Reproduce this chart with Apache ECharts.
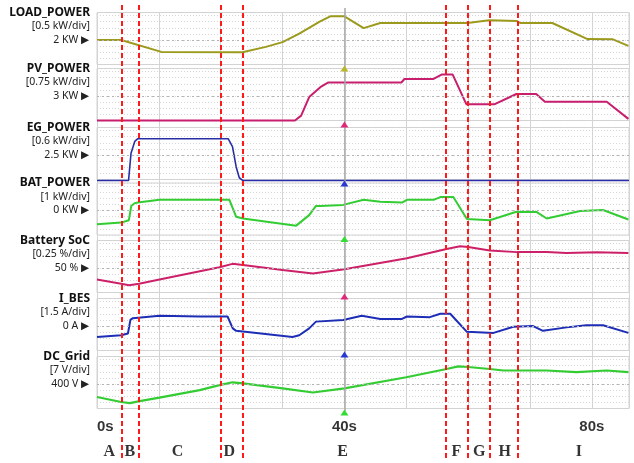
<!DOCTYPE html>
<html><head><meta charset="utf-8">
<script src="https://cdn.jsdelivr.net/npm/echarts@6/dist/echarts.min.js"></script>
<style>html,body{margin:0;padding:0;background:#fff}#c{width:634px;height:463px}</style>
</head><body><div id="c"></div>
<script>
// ---------- data ----------
const channelNames = ['LOAD_POWER', 'PV_POWER', 'EG_POWER', 'BAT_POWER', 'Battery SoC', 'I_BES', 'DC_Grid'];
const channelScales = ['[0.5 kW/div]', '[0.75 kW/div]', '[0.6 kW/div]', '[1 kW/div]', '[0.25 %/div]', '[1.5 A/div]', '[7 V/div]'];
const levelLabels = ['2 KW', '3 KW', '2.5 KW', '0 KW', '50 %', '0 A', '400 V'];
const levelValues = [2, 3, 2.5, 0, 50, 0, 400];
const perDiv = [0.5, 0.75, 0.6, 1, 0.25, 1.5, 7];
const timeTicks = [0, 40, 80];
const phaseNames = ['A', 'B', 'C', 'D', 'E', 'F', 'G', 'H', 'I'];
const phaseCenters = [2.0, 5.3, 13.0, 21.4, 39.7, 58.1, 61.8, 65.9, 77.9];
const phaseBounds = [3.93, 6.67, 19.97, 23.52, 56.43, 59.92, 63.54, 67.95];

const loadT = [0, 3.9, 10.4, 23.5, 27.3, 30.0, 32.7, 36.0, 37.7, 40.0, 43.1, 45.8, 59.9, 63.4, 67.9, 68.4, 73.6, 79.3, 83.4, 85.9];
const loadV = [2.0, 2.0, 1.03, 1.0, 1.44, 1.83, 2.52, 3.5, 3.94, 3.94, 2.97, 3.39, 3.39, 3.61, 3.55, 3.39, 3.39, 2.08, 2.06, 1.52];
const pvT = [0, 32.0, 33.0, 34.3, 36.1, 37.4, 49.2, 49.7, 54.4, 55.7, 57.5, 59.7, 64.3, 67.8, 71.0, 72.4, 82.4, 85.9];
const pvV = [0, 0, 0.6, 2.87, 4.09, 4.66, 4.66, 5.09, 5.09, 5.63, 5.63, 2.0, 2.0, 3.25, 3.25, 2.29, 2.29, 0.2];
const egT = [0, 5.1, 5.5, 6.1, 6.6, 21.2, 21.9, 22.5, 23.0, 23.6, 86];
const egV = [0, 0, 2.67, 3.83, 4.1, 4.1, 3.33, 1.33, 0.27, 0, 0];
const batT = [0, 3.9, 5.15, 5.54, 6.07, 6.6, 10.1, 19.8, 21.4, 22.5, 23.6, 32.2, 34.3, 35.4, 36.1, 39.8, 43.1, 45.8, 49.3, 50.1, 54.4, 55.5, 57.6, 59.8, 63.5, 67.8, 71.1, 72.7, 78.1, 81.8, 85.9];
const batV = [-2.25, -1.97, -1.58, 0.75, 1.2, 1.3, 1.75, 1.75, 1.75, -1.03, -1.3, -2.47, -0.75, 0.75, 0.75, 0.92, 1.75, 1.42, 1.3, 1.75, 1.75, 2.2, 2.2, -1.37, -1.58, -0.2, -0.25, -1.3, -0.08, 0.08, -1.47];
const socT = [0, 3.9, 5.2, 6.8, 10.1, 19.8, 21.9, 23.6, 30.0, 34.9, 40.0, 50.1, 56.5, 58.7, 60.0, 63.5, 67.9, 72.7, 75.9, 80.8, 85.9];
const socV = [49.53, 49.36, 49.30, 49.36, 49.53, 50.03, 50.17, 50.125, 49.92, 49.78, 49.95, 50.40, 50.78, 50.89, 50.86, 50.72, 50.65, 50.65, 50.61, 50.64, 50.61];
const ibT = [0, 3.9, 5.0, 5.4, 5.8, 10.1, 16.6, 21.1, 21.95, 22.5, 31.6, 32.7, 34.3, 35.4, 39.8, 42.8, 45.8, 49.3, 50.1, 53.8, 55.5, 57.1, 59.8, 64.1, 67.3, 70.5, 72.1, 75.9, 79.1, 81.8, 85.9];
const ibV = [-2.68, -2.25, -1.83, 1.5, 1.93, 2.5, 2.33, 2.33, -0.58, -1.18, -2.68, -2.25, -0.58, 1.08, 1.5, 2.5, 1.75, 1.75, 2.33, 2.18, 3.0, 3.0, -1.43, -1.68, -0.18, 0, -1.18, -0.33, 0.18, 0.18, -1.68];
const dcT = [0, 3.9, 5.3, 6.9, 10.1, 16.6, 19.8, 21.9, 23.6, 30.0, 34.9, 40.0, 50.0, 56.5, 58.4, 60.0, 63.5, 65.7, 67.9, 72.7, 77.5, 82.4, 85.9];
const dcV = [385.2, 379.4, 378.2, 380.5, 384.5, 393.0, 398.8, 402.0, 400.8, 395.0, 390.3, 395.0, 407.8, 417.2, 420.2, 419.5, 417.2, 415.5, 415.5, 415.5, 413.7, 415.5, 413.7];

const seriesT = [loadT, pvT, egT, batT, socT, ibT, dcT];
const seriesV = [loadV, pvV, egV, batV, socV, ibV, dcV];

// ---------- layout / style ----------
const colors = ['#9c9a1c', '#c81e6e', '#2a2ea6', '#33cc33', '#cc2068', '#1d2db6', '#33cc33'];
const widths = [2, 2, 1.6, 2, 2, 2, 2.2];
const markColors = ['#b8b62a', '#e0287a', '#2a3ad0', '#33dd33', '#e0287a', '#2a3ad0', '#33dd33'];
const levelY = [40, 96, 155, 210.5, 268, 326, 384];
const PL = 97, PW = 532, XMAX = 86;
const fontSans = '"Noto Sans", "DejaVu Sans", sans-serif';

const grids = [], xAxes = [], yAxes = [], series = [], graphics = [];
for (let k = 0; k < 7; k++) {
  const top = levelY[k] - 27.5;
  grids.push({left: PL, width: PW, top: top, height: 52, show: true, borderColor: '#d2d2d2', borderWidth: 1, backgroundColor: 'transparent'});
  xAxes.push({type: 'value', gridIndex: k, min: 0, max: XMAX, show: false});
  const lv = levelValues[k], d = perDiv[k];
  yAxes.push({type: 'value', gridIndex: k, min: lv - 4 * d, max: lv + 4.5 * d, show: false});
  yAxes.push({type: 'value', gridIndex: k, min: -4, max: 4.5, interval: 1,
    axisLine: {show: false}, axisTick: {show: false}, axisLabel: {show: false},
    splitLine: {show: true, lineStyle: {color: '#d6d6d6', type: [1, 2], width: 1}}});
  const data = seriesT[k].map((t, i) => [t, seriesV[k][i]]);
  series.push({
    type: 'line', xAxisIndex: k, yAxisIndex: 2 * k, data: data, showSymbol: false, clip: false,
    lineStyle: {color: colors[k], width: widths[k]}, z: 3,
    markLine: {silent: true, symbol: 'none', label: {show: false},
      lineStyle: {color: '#b4b4b4', type: [2, 3], width: 1}, data: [{yAxis: lv}]},
    markPoint: {silent: true, label: {show: false},
      data: [{coord: [40, lv - 4 * d], symbol: 'triangle', symbolSize: [8, 6], symbolOffset: [0, 4], itemStyle: {color: markColors[k]}}]}
  });
  graphics.push({type: 'text', silent: true, style: {text: channelNames[k], x: 90, y: levelY[k] - 27.5, align: 'right', verticalAlign: 'middle', font: 'bold 12px ' + fontSans, fill: '#111'}});
  graphics.push({type: 'text', silent: true, style: {text: channelScales[k], x: 90, y: levelY[k] - 13.5, align: 'right', verticalAlign: 'middle', font: '10.5px ' + fontSans, fill: '#222'}});
  graphics.push({type: 'text', silent: true, style: {text: levelLabels[k] + ' \u25B6', x: 89, y: levelY[k], align: 'right', verticalAlign: 'middle', font: '10.5px ' + fontSans, fill: '#222'}});
}

// background grid for vertical division lines
grids.push({left: PL, width: PW, top: 12.5, height: 396, show: false});
xAxes.push({type: 'value', gridIndex: 7, min: 0, max: XMAX, interval: 10,
  axisLine: {show: false}, axisTick: {show: false}, axisLabel: {show: false},
  splitLine: {show: true, lineStyle: {color: '#d4d4d4', width: 1}}});
yAxes.push({type: 'value', gridIndex: 7, min: 0, max: 1, show: false});

// annotation grid (full height, y in screen units)
grids.push({left: PL, width: PW, top: 0, height: 463, show: false});
xAxes.push({type: 'value', gridIndex: 8, min: 0, max: XMAX, show: false});
yAxes.push({type: 'value', gridIndex: 8, min: 0, max: 463, inverse: true, show: false});

series.push({
  type: 'line', xAxisIndex: 8, yAxisIndex: 15, data: [], z: 1,
  markLine: {silent: true, symbol: 'none', label: {show: false},
    lineStyle: {color: '#a8a8a8', type: 'solid', width: 1.5},
    data: [[{coord: [40, 8]}, {coord: [40, 411]}]]}
});
series.push({
  type: 'line', xAxisIndex: 8, yAxisIndex: 15, data: [], z: 10,
  markLine: {silent: true, symbol: 'none', label: {show: false},
    lineStyle: {color: '#ff1a1a', type: [5, 3], width: 2},
    data: phaseBounds.map(t => [{coord: [t, 5]}, {coord: [t, 458]}])}
});
series.push({
  type: 'scatter', xAxisIndex: 8, yAxisIndex: 15, symbolSize: 0, z: 11, silent: true,
  data: timeTicks.map(t => ({value: [t, 427], label: {formatter: t + 's', align: t === 0 ? 'left' : 'center'}})),
  label: {show: true, position: 'inside', color: '#000', fontSize: 15, fontWeight: 'bold', fontFamily: '"Liberation Sans", Arial, sans-serif'}
});
series.push({
  type: 'scatter', xAxisIndex: 8, yAxisIndex: 15, symbolSize: 0, z: 11, silent: true,
  data: phaseNames.map((n, i) => ({value: [phaseCenters[i], 452], label: {formatter: n}})),
  label: {show: true, position: 'inside', color: '#000', fontSize: 16, fontWeight: 'bold', fontFamily: '"Liberation Serif", "Times New Roman", serif'}
});

const chart = echarts.init(document.getElementById('c'), null, {renderer: 'canvas'});
chart.setOption({
  animation: false,
  backgroundColor: '#fff',
  grid: grids, xAxis: xAxes, yAxis: yAxes, series: series, graphic: graphics
});
</script></body></html>
